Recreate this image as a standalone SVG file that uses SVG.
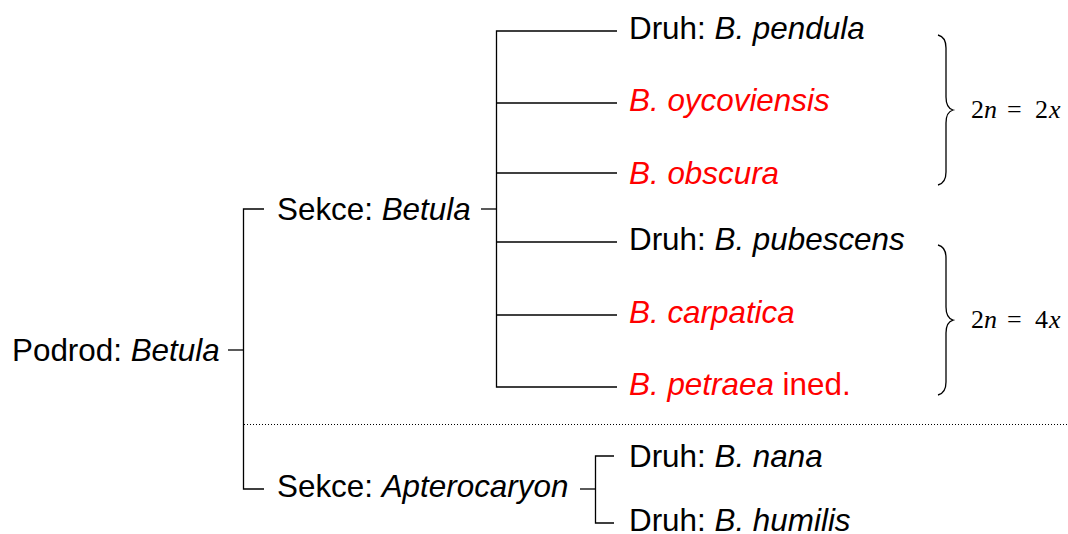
<svg xmlns="http://www.w3.org/2000/svg" width="1068" height="534" viewBox="0 0 1068 534">
<style>
  .t { font-family: "Liberation Sans", Arial, Helvetica, sans-serif; font-size: 31.4px; fill: #000; }
  .r { fill: #ff0000; }
  .i { font-style: italic; }
  .ln { stroke: #000; stroke-width: 1.3; fill: none; }
  .dot { stroke: #000; stroke-width: 1; stroke-dasharray: 1 2; fill: none; }
  .m { font-family: "Liberation Serif", "Times New Roman", serif; font-size: 26px; fill: #000; }
  .mi { font-style: italic; }
</style>
<rect width="1068" height="534" fill="#fff"/>
<g id="connectors">
  <line class="ln" x1="228" y1="350" x2="243.5" y2="350"/>
  <path class="ln" d="M264,209 H243.5 V489 H264"/>
  <line class="ln" x1="481" y1="209" x2="496.5" y2="209"/>
  <path class="ln" d="M617,31 H496.5 V387 H617"/>
  <line class="ln" x1="496.5" y1="103" x2="617" y2="103"/>
  <line class="ln" x1="496.5" y1="173" x2="617" y2="173"/>
  <line class="ln" x1="496.5" y1="242" x2="617" y2="242"/>
  <line class="ln" x1="496.5" y1="315" x2="617" y2="315"/>
  <line class="ln" x1="580" y1="489" x2="595.5" y2="489"/>
  <path class="ln" d="M614,456 H595.5 V523 H614"/>
  <line class="dot" x1="244" y1="424.5" x2="1068" y2="424.5"/>
</g>
<g id="podrod"><text class="t" x="12" y="361">Podrod: <tspan class="i">Betula</tspan></text></g>
<g id="sekce-betula"><text class="t" x="277" y="220">Sekce: <tspan class="i">Betula</tspan></text></g>
<g id="sekce-apterocaryon"><text class="t" x="277" y="497">Sekce: <tspan class="i">Apterocaryon</tspan></text></g>
<g id="pendula"><text class="t" x="629" y="39">Druh: <tspan class="i">B. pendula</tspan></text></g>
<g id="oycoviensis"><text class="t r i" x="629" y="111">B. oycoviensis</text></g>
<g id="obscura"><text class="t r i" x="629" y="184">B. obscura</text></g>
<g id="pubescens"><text class="t" x="629" y="250">Druh: <tspan class="i">B. pubescens</tspan></text></g>
<g id="carpatica"><text class="t r i" x="629" y="323">B. carpatica</text></g>
<g id="petraea"><text class="t r" x="629" y="395"><tspan class="i">B. petraea</tspan> ined.</text></g>
<g id="nana"><text class="t" x="629" y="467">Druh: <tspan class="i">B. nana</tspan></text></g>
<g id="humilis"><text class="t" x="629" y="531">Druh: <tspan class="i">B. humilis</tspan></text></g>
<g id="brace-2x">
  <path class="ln" d="M938,35 Q946,37 946,48 V97 Q946,108 953,110 Q946,112 946,123 V172 Q946,183 938,185"/>
  <text class="m" y="118"><tspan x="971">2</tspan><tspan x="984" class="mi">n</tspan><tspan x="1007">=</tspan><tspan x="1035">2</tspan><tspan x="1049" class="mi">x</tspan></text>
</g>
<g id="brace-4x">
  <path class="ln" d="M938,245 Q946,247 946,258 V307 Q946,318 953,320 Q946,322 946,333 V382 Q946,393 938,395"/>
  <text class="m" y="328"><tspan x="971">2</tspan><tspan x="984" class="mi">n</tspan><tspan x="1007">=</tspan><tspan x="1035">4</tspan><tspan x="1049" class="mi">x</tspan></text>
</g>
</svg>
